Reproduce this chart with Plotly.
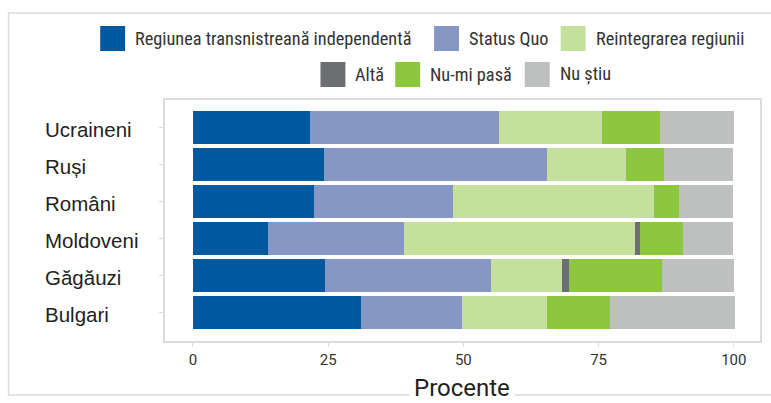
import plotly.graph_objects as go

# Ethnic groups (rows, top to bottom)
categories = ["Ucraineni", "Ruși", "Români", "Moldoveni", "Găgăuzi", "Bulgari"]

# Share of answers per group, in percent
independenta = [21.7, 24.3, 22.3, 13.8, 24.5, 31.0]
status_quo = [34.8, 41.1, 25.8, 25.2, 30.6, 18.8]
reintegrare = [19.2, 14.7, 37.2, 42.8, 13.1, 15.7]
alta = [0.0, 0.0, 0.0, 0.9, 1.3, 0.0]
nu_mi_pasa = [10.7, 7.0, 4.6, 7.9, 17.3, 11.6]
nu_stiu = [13.6, 12.8, 10.0, 9.3, 13.2, 23.2]

series_names = [
    "Regiunea transnistreană independentă",
    "Status Quo",
    "Reintegrarea regiunii",
    "Altă",
    "Nu-mi pasă",
    "Nu știu",
]
series_values = [independenta, status_quo, reintegrare, alta, nu_mi_pasa, nu_stiu]
series_colors = ["#00589f", "#8797c4", "#c5e09c", "#6d6e71", "#8dc63f", "#bebfbf"]

x_ticks = [0, 25, 50, 75, 100]
x_title = "Procente"

W, H = 771, 403
ML, MR, MT, MB = 165, 9, 100, 62
PW, PH = W - ML - MR, H - MT - MB

NARROW = "Liberation Sans Narrow, Roboto Condensed, Roboto, sans-serif"
ROBOTO = "Roboto, sans-serif"
REGULAR = "Liberation Sans, Arial, sans-serif"
GRID = "#dcdcdc"


def px(xp):
    return (xp - ML) / PW


def py(yp):
    return (H - MB - yp) / PH


fig = go.Figure()
for name, vals, col in zip(series_names, series_values, series_colors):
    fig.add_trace(go.Bar(
        y=categories, x=vals, name=name, orientation="h",
        marker=dict(color=col, line=dict(width=0)),
        showlegend=False,
    ))

shapes = []
annotations = []

# Outer frame (open on the right side)
shapes.append(dict(type="rect", xref="paper", yref="paper",
                   x0=px(8), x1=px(800), y0=py(395), y1=py(13),
                   line=dict(color=GRID, width=1.5), layer="below"))

# Legend drawn as swatches + labels in two centred rows
legend_pos = [(100, 26), (435, 26), (562, 26), (321, 62), (396, 62), (526, 62)]
for (lx, ly), name, col in zip(legend_pos, series_names, series_colors):
    shapes.append(dict(type="rect", xref="paper", yref="paper",
                       x0=px(lx), x1=px(lx + 25), y0=py(ly + 25), y1=py(ly),
                       fillcolor=col, line=dict(width=0)))
    annotations.append(dict(xref="paper", yref="paper", x=px(lx + 33), y=py(ly + 12.5),
                            xanchor="left", yanchor="middle", showarrow=False,
                            text=name, font=dict(family=NARROW, size=18.3, color="#333333")))

# Row labels, left-aligned
for cat in categories:
    annotations.append(dict(xref="paper", yref="y", x=px(43), y=cat, yshift=-2,
                            xanchor="left", yanchor="middle", showarrow=False,
                            text=cat, font=dict(family=REGULAR, size=20.5, color="#231f20")))

# Axis title sitting on the frame's bottom edge
annotations.append(dict(xref="paper", yref="paper", x=px(463), y=py(388),
                        xanchor="center", yanchor="middle", showarrow=False,
                        text=x_title, bgcolor="white", borderpad=4,
                        font=dict(family=ROBOTO, size=24, color="#231f20")))

fig.update_layout(
    width=W, height=H,
    margin=dict(l=ML, r=MR, t=MT, b=MB),
    barmode="stack", bargap=0.11,
    paper_bgcolor="white", plot_bgcolor="white",
    shapes=shapes, annotations=annotations,
    xaxis=dict(range=[-5.16, 104.84], tickvals=x_ticks, showgrid=False, zeroline=False,
               showline=True, mirror=True, linecolor=GRID, linewidth=1.5,
               ticks="outside", ticklen=4, tickcolor=GRID,
               tickfont=dict(family=ROBOTO, size=15, color="#333333")),
    yaxis=dict(categoryorder="array", categoryarray=categories,
               range=[5.76, -0.74], showgrid=False, zeroline=False,
               showline=True, mirror=True, linecolor=GRID, linewidth=1.5,
               ticks="outside", ticklen=4, tickcolor=GRID, showticklabels=False),
)

fig.write_html("out.html")
